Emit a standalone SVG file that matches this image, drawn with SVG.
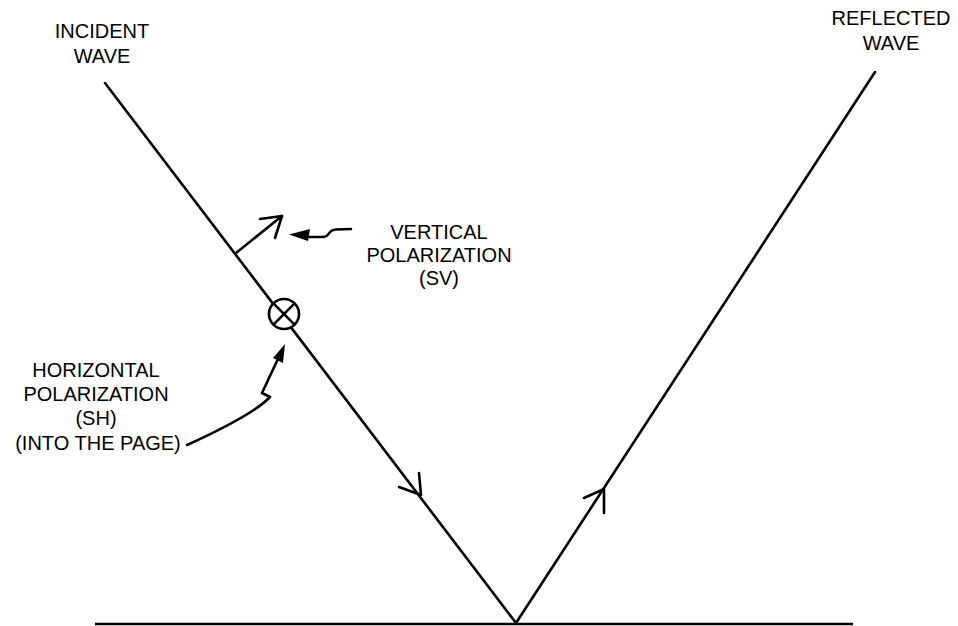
<svg xmlns="http://www.w3.org/2000/svg" width="958" height="626" viewBox="0 0 958 626">
<style>
.ln{fill:none;stroke:#000;stroke-width:2.6;stroke-linecap:round;stroke-linejoin:round}
.lbl{font-family:"Liberation Sans",Arial,sans-serif;font-size:20px;fill:#000;text-anchor:middle}
</style>
<rect width="958" height="626" fill="#fff"/>
<g id="connectors">
<line id="ground" class="ln" x1="95" y1="624" x2="853" y2="624" style="stroke-linecap:butt"/>
<polyline id="incident" class="ln" points="105,83 516,623 875,72"/>
<polyline id="incident-arrow" class="ln" points="419,473 421,495 399,487"/>
<polyline id="reflected-arrow" class="ln" points="604,513 604,489 584,498"/>
<line id="sv-vector" class="ln" x1="236" y1="253" x2="282" y2="216"/>
<polyline id="sv-head" class="ln" points="260,219 282,216 275,238"/>
<path id="sv-leader" class="ln" d="M351,229 L336,229.5 C326,230 332,237.5 321,237 L306,237"/>
<polygon id="sv-leader-head" points="289,234.5 310,229 308,241" fill="#000"/>
<path id="sh-leader" class="ln" d="M187,445 C222,429 256,412 270,397 L262,393 L277,361"/>
<polygon id="sh-leader-head" points="285,344 273,358 283,363" fill="#000"/>
</g>
<g id="sh-symbol">
<circle cx="284" cy="314" r="15" fill="#fff" stroke="#000" stroke-width="2.6"/>
<line x1="273.4" y1="303.4" x2="294.6" y2="324.6" stroke="#000" stroke-width="2.6"/>
<line x1="294.6" y1="303.4" x2="273.4" y2="324.6" stroke="#000" stroke-width="2.6"/>
</g>
<g id="incident-label">
<text class="lbl" x="102" y="38">INCIDENT</text>
<text class="lbl" x="102" y="63">WAVE</text>
</g>
<g id="reflected-label">
<text class="lbl" x="891" y="25">REFLECTED</text>
<text class="lbl" x="891" y="50">WAVE</text>
</g>
<g id="sv-label">
<text class="lbl" x="439" y="239">VERTICAL</text>
<text class="lbl" x="439" y="262">POLARIZATION</text>
<text class="lbl" x="439" y="285">(SV)</text>
</g>
<g id="sh-label">
<text class="lbl" x="96" y="377">HORIZONTAL</text>
<text class="lbl" x="96" y="401">POLARIZATION</text>
<text class="lbl" x="96" y="425">(SH)</text>
<text class="lbl" x="98" y="450">(INTO THE PAGE)</text>
</g>
</svg>
